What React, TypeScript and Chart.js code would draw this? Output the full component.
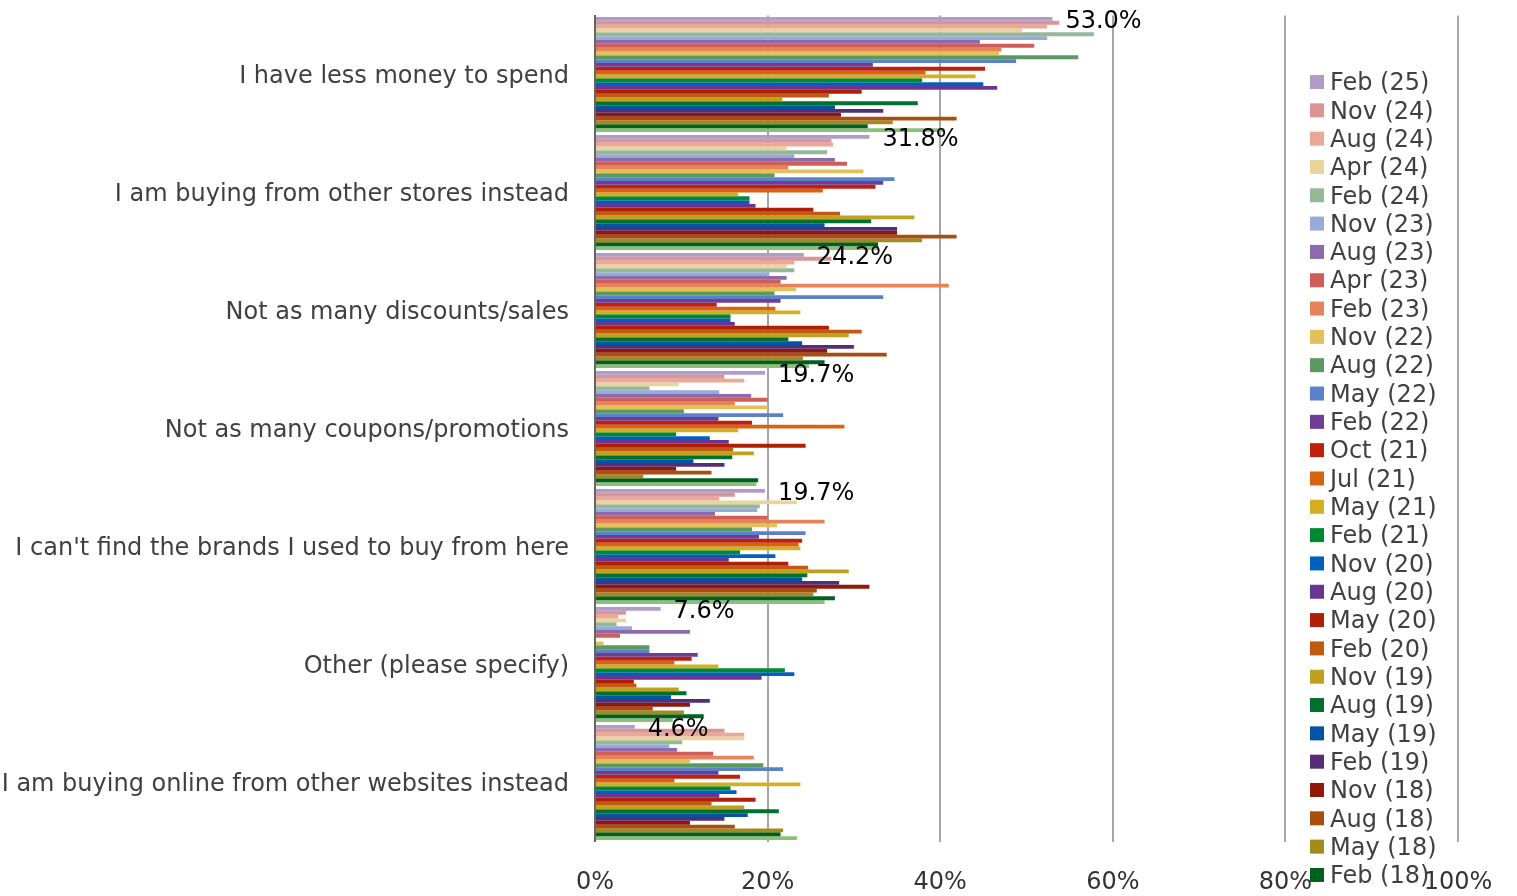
import React, { useEffect, useRef } from "react";
import { Chart, registerables } from "chart.js";

Chart.register(...registerables);

const categories = [
  "I have less money to spend",
  "I am buying from other stores instead",
  "Not as many discounts/sales",
  "Not as many coupons/promotions",
  "I can't find the brands I used to buy from here",
  "Other (please specify)",
  "I am buying online from other websites instead",
];

const seriesLabels = [
  "Feb (25)", "Nov (24)", "Aug (24)", "Apr (24)", "Feb (24)", "Nov (23)", "Aug (23)", "Apr (23)",
  "Feb (23)", "Nov (22)", "Aug (22)", "May (22)", "Feb (22)", "Oct (21)", "Jul (21)", "May (21)",
  "Feb (21)", "Nov (20)", "Aug (20)", "May (20)", "Feb (20)", "Nov (19)", "Aug (19)", "May (19)",
  "Feb (19)", "Nov (18)", "Aug (18)", "May (18)", "Feb (18)", "Nov (17)",
];

const seriesColors = [
  "#b09cc6", "#dc9494", "#eba995", "#e8d49c", "#94b898", "#97abd8", "#8d6aad", "#d05e58",
  "#e58458", "#e2c15a", "#5a9a62", "#5b82c8", "#703c96", "#c0200a", "#d6640e", "#d4b020",
  "#008a30", "#0060c0", "#6a3590", "#b01e06", "#c05a10", "#c0a020", "#007030", "#0055a5",
  "#542d75", "#901808", "#a84f0e", "#a48a1c", "#006020", "#8cbf78",
];

const feb25 = [53.0, 31.8, 24.2, 19.7, 19.7, 7.6, 4.6];
const nov24 = [53.8, 27.4, 27.4, 15.0, 16.2, 3.6, 15.0];
const aug24 = [52.4, 27.6, 23.1, 17.3, 14.4, 2.7, 17.3];
const apr24 = [49.5, 22.2, 22.2, 9.7, 23.4, 3.6, 17.3];
const feb24 = [57.8, 26.9, 23.1, 6.3, 19.1, 2.5, 10.1];
const nov23 = [52.4, 23.1, 20.2, 14.4, 18.8, 4.3, 8.6];
const aug23 = [44.6, 27.8, 22.2, 18.1, 13.9, 11.0, 9.5];
const apr23 = [50.9, 29.2, 21.5, 20.0, 20.0, 2.9, 13.7];
const feb23 = [47.1, 22.4, 41.0, 16.2, 26.6, 0, 18.4];
const nov22 = [46.8, 31.1, 23.3, 20.0, 21.1, 1.0, 11.0];
const aug22 = [56.0, 20.8, 20.8, 10.3, 18.2, 6.3, 19.5];
const may22 = [48.8, 34.7, 33.4, 21.8, 24.4, 6.3, 21.8];
const feb22 = [32.2, 33.4, 21.5, 14.3, 19.0, 11.9, 14.3];
const oct21 = [45.2, 32.5, 14.1, 18.2, 24.0, 11.2, 16.8];
const jul21 = [38.3, 26.4, 20.9, 28.9, 23.6, 9.2, 9.2];
const may21 = [44.1, 16.6, 23.8, 16.6, 23.8, 14.3, 23.8];
const feb21 = [37.9, 17.9, 15.7, 9.4, 16.8, 22.0, 15.7];
const nov20 = [45.0, 17.9, 15.7, 13.3, 20.9, 23.1, 16.4];
const aug20 = [46.6, 18.6, 16.2, 15.5, 15.5, 19.3, 14.4];
const may20 = [30.9, 25.3, 27.1, 24.4, 22.4, 4.5, 18.6];
const feb20 = [27.1, 28.4, 30.9, 16.0, 24.7, 4.8, 13.5];
const nov19 = [21.7, 37.0, 29.4, 18.4, 29.4, 9.7, 17.3];
const aug19 = [37.4, 32.0, 22.4, 15.9, 24.6, 10.6, 21.3];
const may19 = [27.8, 26.6, 24.0, 11.4, 24.0, 8.8, 17.7];
const feb19 = [33.4, 35.0, 30.0, 15.0, 28.3, 13.3, 15.0];
const nov18 = [28.5, 35.0, 26.9, 9.4, 31.8, 11.0, 11.0];
const aug18 = [41.9, 41.9, 33.8, 13.5, 25.7, 6.7, 16.2];
const may18 = [34.5, 37.9, 24.1, 5.6, 25.3, 10.3, 21.8];
const feb18 = [31.6, 32.8, 26.6, 18.9, 27.8, 12.6, 21.5];
const nov17 = [40.5, 32.9, 24.8, 18.7, 26.6, 9.0, 23.4];

const seriesValues = [
  feb25, nov24, aug24, apr24, feb24, nov23, aug23, apr23, feb23, nov22,
  aug22, may22, feb22, oct21, jul21, may21, feb21, nov20, aug20, may20,
  feb20, nov19, aug19, may19, feb19, nov18, aug18, may18, feb18, nov17,
];

const xTicks = [0, 20, 40, 60, 80, 100];

const FONT = "'DejaVu Sans', Verdana, sans-serif";

export default function App() {
  const ref = useRef<HTMLCanvasElement>(null);

  useEffect(() => {
    if (!ref.current) return;

    const labelPlugin = {
      id: "firstSeriesLabels",
      afterDatasetsDraw(chart: any) {
        const ctx = chart.ctx;
        const meta = chart.getDatasetMeta(0);
        ctx.save();
        ctx.font = `24px ${FONT}`;
        ctx.fillStyle = "#000000";
        ctx.textAlign = "left";
        ctx.textBaseline = "middle";
        meta.data.forEach((el: any, i: number) => {
          ctx.fillText(feb25[i].toFixed(1) + "%", el.x + 13, el.y + 3);
        });
        ctx.restore();
      },
    };

    const legendPlugin = {
      id: "sideLegend",
      afterDraw(chart: any) {
        const ctx = chart.ctx;
        ctx.save();
        ctx.font = `24px ${FONT}`;
        ctx.textAlign = "left";
        ctx.textBaseline = "middle";
        seriesLabels.forEach((lab, i) => {
          const y = 82 + i * 28.32;
          if (y + 12 > chart.height) return;
          ctx.fillStyle = seriesColors[i];
          ctx.fillRect(1310, y - 7, 14, 14);
          ctx.fillStyle = "#404040";
          ctx.fillText(lab, 1330, y + 2);
        });
        ctx.restore();
      },
    };

    const chart = new Chart(ref.current, {
      type: "bar",
      data: {
        labels: categories,
        datasets: seriesValues.map((vals, i) => ({
          label: seriesLabels[i],
          data: vals,
          backgroundColor: seriesColors[i],
          borderWidth: 0,
          categoryPercentage: 0.975,
          barPercentage: 1.0,
        })),
      },
      options: {
        indexAxis: "y",
        responsive: false,
        animation: false,
        layout: { padding: { top: 15.5, right: 59, bottom: 0, left: 0 } },
        plugins: {
          legend: { display: false },
          tooltip: { enabled: false },
        },
        scales: {
          x: {
            min: 0,
            max: 100,
            afterBuildTicks: (s: any) => {
              s.ticks = xTicks.map((v) => ({ value: v }));
            },
            afterFit: (s: any) => {
              s.height = 54.5;
              s.paddingLeft = 0;
              s.paddingRight = 0;
            },
            ticks: {
              callback: (v: any) => v + "%",
              font: { family: FONT, size: 24 },
              color: "#333333",
              padding: 27,
              maxRotation: 0,
            },
            grid: {
              color: (c: any) => (c.tick && c.tick.value === 0 ? "#666666" : "#a6a6a6"),
              lineWidth: 2,
              drawTicks: false,
            },
            border: { display: false },
          },
          y: {
            afterFit: (s: any) => {
              s.width = 595;
              s.paddingTop = 0;
              s.paddingBottom = 0;
            },
            ticks: {
              font: { family: FONT, size: 24 },
              color: "#404040",
              padding: 26,
              labelOffset: 2,
            },
            grid: { display: false, drawTicks: false },
            border: { display: true, color: "#666666", width: 2 },
          },
        },
      },
      plugins: [labelPlugin, legendPlugin],
    } as any);

    return () => chart.destroy();
  }, []);

  return (
    <div style={{ position: "fixed", left: 0, top: 0, width: 1517, height: 896, background: "#ffffff" }}>
      <canvas ref={ref} width={1517} height={896} style={{ display: "block" }} />
    </div>
  );
}
